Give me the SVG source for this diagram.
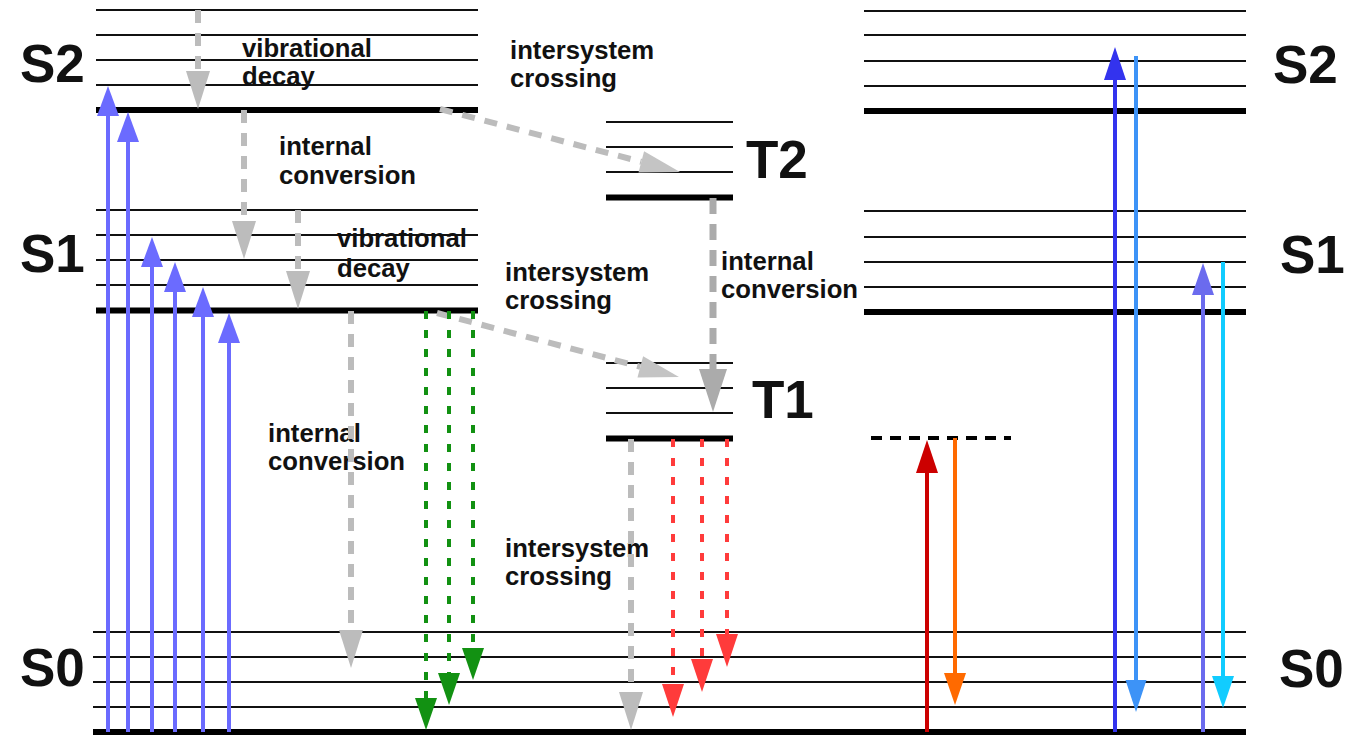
<svg xmlns="http://www.w3.org/2000/svg" width="1347" height="737" viewBox="0 0 1347 737">
<style>
.bg{fill:#ffffff}
.thin{stroke:#111;stroke-width:2.2;fill:none}
.thick{stroke:#000;stroke-width:6;fill:none}
.big{font-family:"Liberation Sans",Arial,sans-serif;font-weight:bold;font-size:53px;fill:#111}
.lbl{font-family:"Liberation Sans",Arial,sans-serif;font-weight:bold;font-size:25.7px;fill:#111}
.abs{stroke:#6b6bff;stroke-width:4;fill:none}
.gray{stroke:#bcbcbc;stroke-width:6;stroke-dasharray:13 10;fill:none}
.gray2{stroke:#ababab;stroke-width:7;stroke-dasharray:16 10;fill:none}
.green{stroke:#129112;stroke-width:4;stroke-dasharray:8 11;fill:none}
.red{stroke:#ff3b3b;stroke-width:4;stroke-dasharray:8 11;fill:none}
</style>
<defs>
<marker id="mBlue" markerUnits="userSpaceOnUse" markerWidth="30" markerHeight="22" refX="0" refY="11" orient="auto" overflow="visible"><path d="M0,0 L30,11 L0,22 z" fill="#6b6bff"/></marker>
<marker id="mGray" markerUnits="userSpaceOnUse" markerWidth="38" markerHeight="24" refX="0" refY="12" orient="auto" overflow="visible"><path d="M0,0 L38,12 L0,24 z" fill="#bcbcbc"/></marker>
<marker id="mGrayD" markerUnits="userSpaceOnUse" markerWidth="40" markerHeight="22" refX="0" refY="11" orient="auto" overflow="visible"><path d="M0,0 L40,11 L0,22 z" fill="#c4c4c4"/></marker>
<marker id="mGray2" markerUnits="userSpaceOnUse" markerWidth="43" markerHeight="28" refX="0" refY="14" orient="auto" overflow="visible"><path d="M0,0 L43,14 L0,28 z" fill="#ababab"/></marker>
<marker id="mGreen" markerUnits="userSpaceOnUse" markerWidth="32" markerHeight="22" refX="0" refY="11" orient="auto" overflow="visible"><path d="M0,0 L32,11 L0,22 z" fill="#129112"/></marker>
<marker id="mRed" markerUnits="userSpaceOnUse" markerWidth="33" markerHeight="22" refX="0" refY="11" orient="auto" overflow="visible"><path d="M0,0 L33,11 L0,22 z" fill="#ff3b3b"/></marker>
<marker id="mDarkRed" markerUnits="userSpaceOnUse" markerWidth="33" markerHeight="22" refX="0" refY="11" orient="auto" overflow="visible"><path d="M0,0 L33,11 L0,22 z" fill="#cc0000"/></marker>
<marker id="mOrange" markerUnits="userSpaceOnUse" markerWidth="32" markerHeight="22" refX="0" refY="11" orient="auto" overflow="visible"><path d="M0,0 L32,11 L0,22 z" fill="#ff6a00"/></marker>
<marker id="mDBlue" markerUnits="userSpaceOnUse" markerWidth="33" markerHeight="22" refX="0" refY="11" orient="auto" overflow="visible"><path d="M0,0 L33,11 L0,22 z" fill="#3333ee"/></marker>
<marker id="mLBlue" markerUnits="userSpaceOnUse" markerWidth="32" markerHeight="21" refX="0" refY="10.5" orient="auto" overflow="visible"><path d="M0,0 L32,10.5 L0,21 z" fill="#3d93f7"/></marker>
<marker id="mMBlue" markerUnits="userSpaceOnUse" markerWidth="32" markerHeight="22" refX="0" refY="11" orient="auto" overflow="visible"><path d="M0,0 L32,11 L0,22 z" fill="#6b6bee"/></marker>
<marker id="mCyan" markerUnits="userSpaceOnUse" markerWidth="32" markerHeight="22" refX="0" refY="11" orient="auto" overflow="visible"><path d="M0,0 L32,11 L0,22 z" fill="#11ccff"/></marker>
</defs>
<rect class="bg" x="0" y="0" width="1347" height="737"/>

<g id="S2-left">
<path class="thin" d="M96,10H478M96,35H478M96,60H478M96,85H478"/>
<path class="thick" d="M96,110H478"/>
<text class="big" x="20" y="82">S2</text>
</g>
<g id="S1-left">
<path class="thin" d="M96,210H478M96,235H478M96,260H478M96,285H478"/>
<path class="thick" d="M96,310.5H478"/>
<text class="big" x="20" y="272">S1</text>
</g>
<g id="T2">
<path class="thin" d="M606,122H733M606,147H733M606,172H733"/>
<path class="thick" d="M606,197.5H733"/>
<text class="big" x="746" y="178">T2</text>
</g>
<g id="T1">
<path class="thin" d="M606,363H733M606,388H733M606,413H733"/>
<path class="thick" d="M606,438.5H733"/>
<text class="big" x="752" y="418">T1</text>
</g>
<g id="S0">
<path class="thin" d="M93,632H1246M93,657H1246M93,682H1246M93,707H1246"/>
<path class="thick" d="M93,732H1246"/>
<text class="big" x="20" y="686">S0</text>
<text class="big" x="1279" y="687">S0</text>
</g>
<g id="S2-right">
<path class="thin" d="M864,11H1246M864,35H1246M864,61H1246M864,86H1246"/>
<path class="thick" d="M864,111H1246"/>
<text class="big" x="1273" y="83">S2</text>
</g>
<g id="S1-right">
<path class="thin" d="M864,211H1246M864,237H1246M864,262H1246M864,287H1246"/>
<path class="thick" d="M864,312H1246"/>
<text class="big" x="1280" y="273">S1</text>
</g>
<g id="virtual-level">
<path d="M871,438H1011" stroke="#000" stroke-width="4" stroke-dasharray="11 8" fill="none"/>
</g>

<g id="labels">
<text class="lbl" x="242" y="57">vibrational</text>
<text class="lbl" x="242" y="85">decay</text>
<text class="lbl" x="510" y="59">intersystem</text>
<text class="lbl" x="510" y="87">crossing</text>
<text class="lbl" x="279" y="155">internal</text>
<text class="lbl" x="279" y="184">conversion</text>
<text class="lbl" x="337" y="247">vibrational</text>
<text class="lbl" x="337" y="277">decay</text>
<text class="lbl" x="505" y="281">intersystem</text>
<text class="lbl" x="505" y="309">crossing</text>
<text class="lbl" x="721" y="270">internal</text>
<text class="lbl" x="721" y="298">conversion</text>
<text class="lbl" x="268" y="442">internal</text>
<text class="lbl" x="268" y="470">conversion</text>
<text class="lbl" x="505" y="557">intersystem</text>
<text class="lbl" x="505" y="585">crossing</text>
</g>

<g id="connectors">
<path class="abs" d="M108,732V116" marker-end="url(#mBlue)"/>
<path class="abs" d="M128,732V142" marker-end="url(#mBlue)"/>
<path class="abs" d="M152,732V267" marker-end="url(#mBlue)"/>
<path class="abs" d="M175,732V292" marker-end="url(#mBlue)"/>
<path class="abs" d="M203,732V317" marker-end="url(#mBlue)"/>
<path class="abs" d="M229,732V343" marker-end="url(#mBlue)"/>

<path class="gray" d="M198,10V71" marker-end="url(#mGray)"/>
<path class="gray" d="M244,110V221" marker-end="url(#mGray)"/>
<path class="gray" d="M298,210V271" marker-end="url(#mGray)"/>
<path class="gray" d="M351,311V630" marker-end="url(#mGray)"/>
<path class="gray" d="M440,109L641.3,161.8" marker-end="url(#mGrayD)"/>
<path class="gray" d="M437,313L640.3,366.8" marker-end="url(#mGrayD)"/>
<path class="gray2" d="M713,198V369" marker-end="url(#mGray2)"/>
<path class="gray" d="M631,439V692" marker-end="url(#mGray)"/>

<path class="green" d="M426,311V698" marker-end="url(#mGreen)"/>
<path class="green" d="M449,311V673" marker-end="url(#mGreen)"/>
<path class="green" d="M473,311V648" marker-end="url(#mGreen)"/>

<path class="red" d="M673,439V684" marker-end="url(#mRed)"/>
<path class="red" d="M702,439V659" marker-end="url(#mRed)"/>
<path class="red" d="M727,439V634" marker-end="url(#mRed)"/>

<path d="M927,732V473" stroke="#cc0000" stroke-width="4" fill="none" marker-end="url(#mDarkRed)"/>
<path d="M955,438V673" stroke="#ff6a00" stroke-width="4" fill="none" marker-end="url(#mOrange)"/>

<path d="M1115,732V80" stroke="#3333ee" stroke-width="4" fill="none" marker-end="url(#mDBlue)"/>
<path d="M1136,56V680" stroke="#3d93f7" stroke-width="4" fill="none" marker-end="url(#mLBlue)"/>
<path d="M1203,732V295" stroke="#6b6bee" stroke-width="4" fill="none" marker-end="url(#mMBlue)"/>
<path d="M1223,262V676" stroke="#11ccff" stroke-width="4" fill="none" marker-end="url(#mCyan)"/>
</g>
</svg>
